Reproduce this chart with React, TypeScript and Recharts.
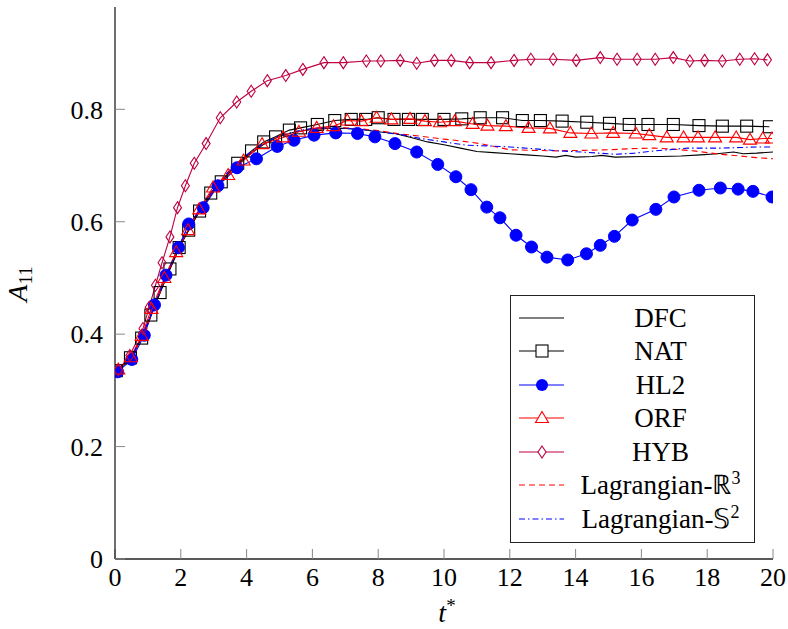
import React from "react";
import { LineChart, Line, XAxis, YAxis } from "recharts";

// ---- data ----
const dfcT = [0, 0.5, 1, 1.5, 2, 2.5, 3, 3.5, 4, 4.5, 5, 5.5, 6, 6.5, 7, 7.5, 8, 8.5, 9, 9.5, 10, 10.5, 11, 11.5, 12, 12.5, 13, 13.4, 13.7, 14, 14.5, 14.8, 15.2, 16, 16.6, 17.2, 17.8, 18.3, 18.8, 19.1, 19.5, 20];
const dfcA = [0.333, 0.357, 0.418, 0.493, 0.56, 0.612, 0.655, 0.69, 0.716, 0.737, 0.752, 0.76, 0.764, 0.766, 0.766, 0.764, 0.76, 0.757, 0.75, 0.742, 0.737, 0.731, 0.725, 0.723, 0.721, 0.719, 0.717, 0.715, 0.718, 0.715, 0.716, 0.718, 0.715, 0.716, 0.716, 0.717, 0.719, 0.721, 0.724, 0.721, 0.722, 0.724];

const natT = [0.04, 0.47, 0.81, 1.09, 1.37, 1.67, 1.95, 2.24, 2.57, 2.91, 3.23, 3.73, 4.15, 4.52, 4.88, 5.3, 5.64, 6.15, 6.68, 7.18, 7.62, 8.0, 8.48, 8.92, 9.34, 10.0, 10.54, 11.1, 11.78, 12.38, 12.93, 13.59, 14.34, 15.03, 15.63, 16.2, 16.97, 17.75, 18.46, 19.2, 19.89];
const natA = [0.335, 0.358, 0.393, 0.434, 0.474, 0.516, 0.554, 0.585, 0.619, 0.651, 0.671, 0.704, 0.726, 0.742, 0.751, 0.763, 0.767, 0.773, 0.78, 0.782, 0.782, 0.785, 0.782, 0.782, 0.782, 0.782, 0.783, 0.785, 0.785, 0.78, 0.78, 0.779, 0.777, 0.775, 0.773, 0.773, 0.773, 0.771, 0.77, 0.77, 0.769];

const hl2T = [0.08, 0.51, 0.89, 1.2, 1.55, 1.93, 2.24, 2.68, 3.13, 3.71, 4.3, 4.93, 5.44, 6.05, 6.71, 7.37, 7.9, 8.51, 9.17, 9.81, 10.36, 10.82, 11.3, 11.7, 12.19, 12.66, 13.13, 13.76, 14.33, 14.75, 15.18, 15.72, 16.44, 16.99, 17.75, 18.4, 18.94, 19.39, 19.97];
const hl2A = [0.333, 0.355, 0.398, 0.452, 0.505, 0.554, 0.596, 0.625, 0.664, 0.696, 0.712, 0.734, 0.745, 0.754, 0.758, 0.757, 0.751, 0.739, 0.724, 0.702, 0.68, 0.657, 0.626, 0.607, 0.576, 0.555, 0.537, 0.532, 0.543, 0.558, 0.574, 0.603, 0.622, 0.644, 0.656, 0.66, 0.658, 0.654, 0.644];

const orfT = [0.1, 0.48, 0.81, 1.11, 1.5, 1.86, 2.22, 2.56, 2.98, 3.44, 3.91, 4.47, 5.11, 5.59, 6.13, 6.64, 7.06, 7.49, 7.95, 8.4, 8.97, 9.42, 9.88, 10.33, 10.87, 11.32, 11.88, 12.57, 13.22, 13.84, 14.48, 15.14, 15.83, 16.24, 16.77, 17.28, 17.72, 18.24, 18.88, 19.3, 19.69, 19.97];
const orfA = [0.337, 0.359, 0.397, 0.445, 0.5, 0.546, 0.585, 0.622, 0.661, 0.683, 0.709, 0.738, 0.75, 0.76, 0.767, 0.77, 0.78, 0.779, 0.785, 0.782, 0.783, 0.779, 0.777, 0.779, 0.774, 0.771, 0.77, 0.767, 0.766, 0.758, 0.757, 0.758, 0.757, 0.754, 0.75, 0.75, 0.75, 0.75, 0.75, 0.746, 0.748, 0.748];

const hybT = [0.1, 0.45, 0.85, 1.04, 1.23, 1.43, 1.67, 1.9, 2.14, 2.41, 2.77, 3.2, 3.7, 4.14, 4.63, 5.19, 5.71, 6.35, 6.94, 7.64, 8.08, 8.67, 9.17, 9.71, 10.22, 10.78, 11.43, 12.13, 12.64, 13.32, 14.02, 14.75, 15.26, 15.87, 16.42, 16.97, 17.47, 17.92, 18.46, 18.99, 19.44, 19.83];
const hybA = [0.336, 0.362, 0.41, 0.448, 0.487, 0.527, 0.573, 0.625, 0.664, 0.704, 0.739, 0.785, 0.813, 0.832, 0.851, 0.86, 0.871, 0.883, 0.883, 0.886, 0.886, 0.887, 0.882, 0.887, 0.887, 0.883, 0.883, 0.887, 0.889, 0.889, 0.887, 0.892, 0.889, 0.889, 0.889, 0.892, 0.886, 0.887, 0.886, 0.889, 0.89, 0.888];

const lagR3T = [0, 0.5, 1, 1.5, 2, 2.5, 3, 3.5, 4, 4.5, 5, 5.5, 6, 6.5, 7, 7.5, 8, 8.7, 9.3, 10, 10.6, 11.1, 11.6, 12, 12.7, 13.4, 14.2, 15, 15.7, 16.4, 17, 17.6, 18, 18.4, 19, 19.5, 20];
const lagR3A = [0.333, 0.357, 0.418, 0.495, 0.562, 0.614, 0.657, 0.692, 0.718, 0.738, 0.752, 0.76, 0.765, 0.767, 0.767, 0.765, 0.762, 0.756, 0.752, 0.747, 0.743, 0.739, 0.733, 0.728, 0.727, 0.726, 0.727, 0.728, 0.73, 0.731, 0.729, 0.726, 0.723, 0.72, 0.717, 0.714, 0.712];

const lagS2T = [0, 0.5, 1, 1.5, 2, 2.5, 3, 3.5, 4, 4.5, 5, 5.5, 6, 6.5, 7, 7.5, 8, 8.7, 9.3, 10, 10.7, 11.3, 12, 12.7, 13.5, 14.2, 15.2, 15.8, 16.4, 17, 17.4, 18, 18.4, 19, 19.5, 20];
const lagS2A = [0.333, 0.358, 0.42, 0.497, 0.564, 0.616, 0.658, 0.693, 0.719, 0.739, 0.753, 0.761, 0.766, 0.767, 0.766, 0.764, 0.76, 0.755, 0.748, 0.742, 0.736, 0.735, 0.733, 0.73, 0.726, 0.724, 0.72, 0.722, 0.726, 0.729, 0.731, 0.731, 0.731, 0.732, 0.733, 0.733];

const xTicks = [0, 2, 4, 6, 8, 10, 12, 14, 16, 18, 20];
const yTicks = [0, 0.2, 0.4, 0.6, 0.8];

const toRows = (t: number[], a: number[]) => t.map((v, i) => ({ t: v, a: a[i] }));

const FONT = "Liberation Serif";
const C_HYB = "#bf0040";

// ---- markers ----
const SquareDot = (p: any) => (
  <rect key={p.index} x={p.cx - 6} y={p.cy - 6} width={12} height={12} fill="none" stroke="#000" strokeWidth={1.1} />
);
const CircleDot = (p: any) => <circle key={p.index} cx={p.cx} cy={p.cy} r={6} fill="#0000ff" stroke="#0000ff" />;
const TriDot = (p: any) => (
  <polygon key={p.index} points={`${p.cx},${p.cy - 6.5} ${p.cx - 6.5},${p.cy + 4.5} ${p.cx + 6.5},${p.cy + 4.5}`} fill="none" stroke="#ff0000" strokeWidth={1.1} />
);
const DiaDot = (p: any) => (
  <polygon key={p.index} points={`${p.cx},${p.cy - 6} ${p.cx + 4},${p.cy} ${p.cx},${p.cy + 6} ${p.cx - 4},${p.cy}`} fill="none" stroke={C_HYB} strokeWidth={1.1} />
);

const legendItems = [
  { name: "DFC", color: "#000", dash: undefined as string | undefined, marker: null as any },
  { name: "NAT", color: "#000", dash: undefined, marker: "sq" },
  { name: "HL2", color: "#0000ff", dash: undefined, marker: "ci" },
  { name: "ORF", color: "#ff0000", dash: undefined, marker: "tr" },
  { name: "HYB", color: C_HYB, dash: undefined, marker: "di" },
  { name: "R3", color: "#ff0000", dash: "6 4", marker: null },
  { name: "S2", color: "#0000ff", dash: "6 3 1.5 3", marker: null },
];

const Icon = ({ item }: any) => {
  const cx = 31;
  const cy = 12;
  return (
    <svg width={56} height={24} style={{ display: "block" }}>
      <line x1={8} y1={cy} x2={53} y2={cy} stroke={item.color} strokeWidth={1.2} strokeDasharray={item.dash} />
      {item.marker === "sq" && <rect x={cx - 6} y={cy - 6} width={12} height={12} fill="#fff" stroke="#000" strokeWidth={1.1} />}
      {item.marker === "ci" && <circle cx={cx} cy={cy} r={6} fill="#0000ff" />}
      {item.marker === "tr" && (
        <polygon points={`${cx},${cy - 6.5} ${cx - 6.5},${cy + 4.5} ${cx + 6.5},${cy + 4.5}`} fill="#fff" stroke="#ff0000" strokeWidth={1.1} />
      )}
      {item.marker === "di" && (
        <polygon points={`${cx},${cy - 6} ${cx + 4},${cy} ${cx},${cy + 6} ${cx - 4},${cy}`} fill="#fff" stroke={C_HYB} strokeWidth={1.1} />
      )}
    </svg>
  );
};

const supStyle: React.CSSProperties = { fontSize: 18, verticalAlign: "0.55em", lineHeight: 0 };
const labelFor = (name: string) => {
  if (name === "R3")
    return (
      <span>
        Lagrangian-ℝ<sup style={supStyle}>3</sup>
      </span>
    );
  if (name === "S2")
    return (
      <span>
        Lagrangian-𝕊<sup style={supStyle}>2</sup>
      </span>
    );
  return <span>{name}</span>;
};

const LegendBox = () => (
  <div
    style={{
      position: "absolute",
      left: 510,
      top: 295,
      width: 245,
      height: 248,
      border: "1.3px solid #222",
      background: "#fff",
      boxSizing: "border-box",
      paddingTop: 5,
      fontFamily: FONT,
      fontSize: 27,
      color: "#000",
    }}
  >
    {legendItems.map((it) => (
      <div key={it.name} style={{ display: "flex", alignItems: "center", height: 33.5 }}>
        <div style={{ width: 56 }}>
          <Icon item={it} />
        </div>
        <div style={{ flex: 1, textAlign: "center", lineHeight: "30px", whiteSpace: "nowrap" }}>{labelFor(it.name)}</div>
      </div>
    ))}
  </div>
);

const YLabel = () => (
  <text transform="translate(27,284) rotate(-90)" textAnchor="middle" fontFamily={FONT} fontSize={28} fill="#000">
    <tspan fontStyle="italic">A</tspan>
    <tspan fontSize={19} dy={5}>11</tspan>
  </text>
);

const XLabel = () => (
  <text x={447} y={622} textAnchor="middle" fontFamily={FONT} fontSize={28} fill="#000">
    <tspan fontStyle="italic">t</tspan>
    <tspan fontSize={19} dy={-10}>*</tspan>
  </text>
);

export default function App() {
  const tickStyle = { fontFamily: FONT, fontSize: 26, fill: "#000" };
  const axisLine = { stroke: "#222", strokeWidth: 1.3 };
  const tickLine = { stroke: "#888", strokeWidth: 1 };
  return (
    <div style={{ position: "absolute", left: 0, top: 0, width: 788, height: 629, background: "#fff" }}>
      <LineChart width={788} height={629} margin={{ top: 7, right: 15, bottom: 30, left: 55 }}>
        <XAxis
          xAxisId="b"
          type="number"
          dataKey="t"
          domain={[0, 20]}
          ticks={xTicks}
          allowDataOverflow
          height={40}
          tickSize={-10}
          tickMargin={19}
          tick={tickStyle}
          axisLine={axisLine}
          tickLine={tickLine}
          label={{ content: () => <XLabel /> }}
        />
        <XAxis
          xAxisId="top"
          orientation="top"
          type="number"
          dataKey="t"
          domain={[0, 20]}
          ticks={xTicks}
          height={0}
          tickSize={-10}
          tick={false}
          axisLine={axisLine}
          tickLine={tickLine}
        />
        <YAxis
          yAxisId="l"
          type="number"
          domain={[0, 0.982]}
          ticks={yTicks}
          allowDataOverflow
          width={60}
          tickSize={-10}
          tickMargin={22}
          tick={tickStyle}
          axisLine={axisLine}
          tickLine={tickLine}
          label={{ content: () => <YLabel /> }}
        />
        <YAxis
          yAxisId="r"
          orientation="right"
          type="number"
          domain={[0, 0.982]}
          ticks={yTicks}
          width={0}
          tickSize={-10}
          tick={false}
          axisLine={axisLine}
          tickLine={tickLine}
        />
        <Line xAxisId="b" yAxisId="l" data={toRows(dfcT, dfcA)} dataKey="a" name="DFC" stroke="#000" strokeWidth={1.1} dot={false} isAnimationActive={false} />
        <Line xAxisId="b" yAxisId="l" data={toRows(natT, natA)} dataKey="a" name="NAT" stroke="#000" strokeWidth={1.1} dot={SquareDot} isAnimationActive={false} />
        <Line xAxisId="b" yAxisId="l" data={toRows(hl2T, hl2A)} dataKey="a" name="HL2" stroke="#0000ff" strokeWidth={1.1} dot={CircleDot} isAnimationActive={false} />
        <Line xAxisId="b" yAxisId="l" data={toRows(orfT, orfA)} dataKey="a" name="ORF" stroke="#ff0000" strokeWidth={1.1} dot={TriDot} isAnimationActive={false} />
        <Line xAxisId="b" yAxisId="l" data={toRows(hybT, hybA)} dataKey="a" name="HYB" stroke={C_HYB} strokeWidth={1.1} dot={DiaDot} isAnimationActive={false} />
        <Line xAxisId="b" yAxisId="l" data={toRows(lagR3T, lagR3A)} dataKey="a" name="R3" stroke="#ff0000" strokeWidth={1.1} strokeDasharray="6 4" dot={false} isAnimationActive={false} />
        <Line xAxisId="b" yAxisId="l" data={toRows(lagS2T, lagS2A)} dataKey="a" name="S2" stroke="#0000ff" strokeWidth={1.1} strokeDasharray="6 3 1.5 3" dot={false} isAnimationActive={false} />
      </LineChart>
      <LegendBox />
    </div>
  );
}
